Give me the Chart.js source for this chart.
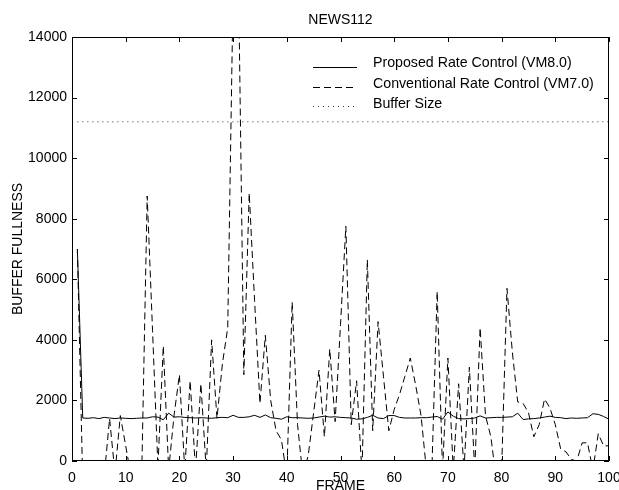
<!DOCTYPE html>
<html>
<head>
<meta charset="utf-8">
<script src="https://cdn.jsdelivr.net/npm/chart.js@4.4.0/dist/chart.umd.min.js"></script>
<style>
  html, body { margin: 0; padding: 0; background: #fff; }
  #wrap { width: 619px; height: 490px; }
</style>
</head>
<body>
<div id="wrap"><canvas id="chart" width="619" height="490"></canvas></div>
<script>
// frame numbers 1..100
const frames = Array.from({ length: 100 }, (_, i) => i + 1);

// Proposed Rate Control (VM8.0)
const proposed = [
  7000, 1420, 1410, 1430, 1400, 1440, 1420, 1400, 1420, 1410,
  1400, 1410, 1420, 1420, 1460, 1450, 1360, 1580, 1450, 1460,
  1440, 1430, 1420, 1430, 1420, 1410, 1430, 1440, 1430, 1510,
  1440, 1440, 1460, 1510, 1440, 1520, 1430, 1410, 1380, 1460,
  1430, 1430, 1420, 1410, 1420, 1450, 1480, 1450, 1460, 1440,
  1430, 1420, 1380, 1390, 1440, 1510, 1420, 1400, 1500, 1500,
  1440, 1420, 1420, 1420, 1430, 1430, 1450, 1470, 1380, 1620,
  1480, 1400, 1390, 1400, 1420, 1490, 1420, 1430, 1440, 1440,
  1450, 1460, 1580, 1370, 1390, 1400, 1420, 1450, 1480, 1440,
  1430, 1400, 1420, 1410, 1420, 1430, 1560, 1540, 1470, 1380
];

// Conventional Rate Control (VM7.0)
const conventional = [
  7000, -700, -800, -800, -800, -500, 1400, -400, 1500, 500,
  -500, -600, -300, 8750, 4300, -200, 3800, -300, 1500, 2850,
  -300, 2650, -300, 2550, -300, 4000, 1400, 3200, 4400, 15500,
  16000, 2850, 8850, 5300, 1900, 4150, 2000, 1000, 700, -500,
  5250, 1200, -500, 200, 1600, 3000, 800, 3700, 1300, 4500,
  7750, 1200, 2650, -400, 6650, 1000, 4600, 2800, 1000, 1700,
  2200, 2800, 3400, 2500, 1500, -300, -400, 5600, -300, 3400,
  -300, 2550, -300, 3100, -300, 4400, 1500, 800, -600, -300,
  5700, 3600, 1950, 1900, 1600, 800, 1200, 2050, 1750, 1200,
  400, 300, 50, 0, 600, 600, -300, 900, 500, 500
];

const bufferSize = 11200;
const xTicks = [0, 10, 20, 30, 40, 50, 60, 70, 80, 90, 100];
const yTicks = [0, 2000, 4000, 6000, 8000, 10000, 12000, 14000];

const FONT = "'Liberation Sans', Arial, Helvetica, sans-serif";

const toPts = arr => arr.map((v, i) => ({ x: frames[i], y: v }));

// box + inward ticks + legend, matlab style
const frameBox = {
  id: 'frameBox',
  afterDatasetsDraw(chart) {
    const { ctx, chartArea: a, scales } = chart;
    ctx.save();
    ctx.strokeStyle = '#000';
    ctx.lineWidth = 1;
    ctx.setLineDash([]);
    ctx.strokeRect(a.left + 0.5, a.top + 0.5, a.right - a.left - 1, a.bottom - a.top - 1);
    const tl = 5;
    ctx.beginPath();
    xTicks.forEach(t => {
      const px = Math.round(scales.x.getPixelForValue(t)) + 0.5;
      ctx.moveTo(px, a.bottom); ctx.lineTo(px, a.bottom - tl);
      ctx.moveTo(px, a.top); ctx.lineTo(px, a.top + tl);
    });
    yTicks.forEach(t => {
      const py = Math.round(scales.y.getPixelForValue(t)) + 0.5;
      ctx.moveTo(a.left, py); ctx.lineTo(a.left + tl, py);
      ctx.moveTo(a.right, py); ctx.lineTo(a.right - tl, py);
    });
    ctx.stroke();

    // legend
    ctx.fillStyle = '#fff';
    ctx.fillRect(308, 52, 290, 60);
    ctx.font = '14.2px ' + FONT;
    ctx.textBaseline = 'middle';
    const textY = [63, 84, 104.5];
    const lineY = [67.5, 87.5, 106.5];
    chart.data.datasets.forEach((ds, i) => {
      ctx.strokeStyle = ds.borderColor;
      ctx.lineWidth = 1;
      ctx.setLineDash(ds.borderDash || []);
      ctx.beginPath();
      ctx.moveTo(313, lineY[i]);
      ctx.lineTo(357, lineY[i]);
      ctx.stroke();
      ctx.setLineDash([]);
      ctx.fillStyle = '#000';
      ctx.fillText(ds.label, 373, textY[i]);
    });
    ctx.restore();
  }
};

new Chart(document.getElementById('chart'), {
  type: 'line',
  data: {
    datasets: [
      { label: 'Proposed Rate Control (VM8.0)', data: toPts(proposed), borderColor: '#000', borderWidth: 1, pointRadius: 0, tension: 0 },
      { label: 'Conventional Rate Control (VM7.0)', data: toPts(conventional), borderColor: '#000', borderWidth: 1, borderDash: [7, 4], pointRadius: 0, tension: 0 },
      { label: 'Buffer Size', data: [{ x: 1, y: bufferSize }, { x: 100, y: bufferSize }], borderColor: '#333', borderWidth: 1, borderDash: [1, 4], pointRadius: 0, tension: 0 }
    ]
  },
  options: {
    responsive: false,
    animation: false,
    events: [],
    layout: { autoPadding: false, padding: { left: 0, right: 10, top: 0, bottom: 0 } },
    plugins: {
      legend: { display: false },
      tooltip: { enabled: false },
      title: {
        display: true,
        text: 'NEWS112',
        fullSize: false,
        color: '#000',
        font: { family: FONT, size: 14, weight: 'normal' },
        padding: { top: 11.6, bottom: 8.6 }
      }
    },
    scales: {
      x: {
        type: 'linear', min: 0, max: 100,
        grid: { display: false, drawTicks: false },
        border: { display: false },
        afterBuildTicks: s => { s.ticks = xTicks.map(v => ({ value: v })); },
        afterFit: s => { s.height = 29; s.paddingLeft = 0; s.paddingRight = 0; },
        ticks: { color: '#000', font: { family: FONT, size: 14 }, padding: 9, maxRotation: 0, callback: v => String(v) },
        title: { display: true, text: 'FRAME', color: '#000', font: { family: FONT, size: 14 }, padding: { top: 0, bottom: -5 } }
      },
      y: {
        min: 0, max: 14000,
        grid: { display: false, drawTicks: false },
        border: { display: false },
        afterBuildTicks: s => { s.ticks = yTicks.map(v => ({ value: v })); },
        afterFit: s => { s.width = 72; s.paddingTop = 0; s.paddingBottom = 0; },
        ticks: { color: '#000', font: { family: FONT, size: 14 }, padding: 5, callback: v => String(v) },
        title: { display: true, text: 'BUFFER FULLNESS', color: '#000', font: { family: FONT, size: 14 }, padding: { top: 10, bottom: 0 } }
      }
    }
  },
  plugins: [frameBox]
});
</script>
</body>
</html>
